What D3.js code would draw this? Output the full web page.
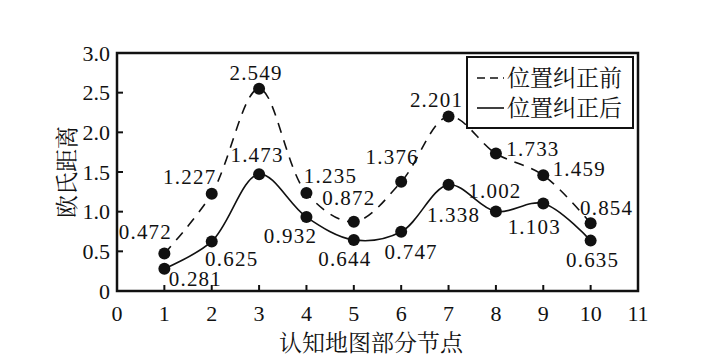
<!DOCTYPE html>
<html>
<head>
<meta charset="utf-8">
<script src="https://cdn.jsdelivr.net/npm/d3@7"></script>
<style>
  body { margin: 0; background: #fff; }
</style>
</head>
<body>
<svg id="chart" width="715" height="362"></svg>
<script>
// data
const nodes = [1, 2, 3, 4, 5, 6, 7, 8, 9, 10];
const before = [0.472, 1.227, 2.549, 1.235, 0.872, 1.376, 2.201, 1.733, 1.459, 0.854];
const after = [0.281, 0.625, 1.473, 0.932, 0.644, 0.747, 1.338, 1.002, 1.103, 0.635];
const xTicks = [0, 1, 2, 3, 4, 5, 6, 7, 8, 9, 10, 11];
const yTicks = [0, 0.5, 1.0, 1.5, 2.0, 2.5, 3.0];
const seriesNames = ["位置纠正前", "位置纠正后"];

// label offsets (px) from each point
const beforeOffsets = [[-19, -22], [-22, -17], [-3, -16], [24, -17], [-5, -24], [-9, -25], [-12, -17], [37, -5], [36, -7], [16, -16]];
const afterOffsets = [[31, 10], [20, 17], [-2, -19], [-16, 19], [-9, 19], [10, 20], [5, 30], [-1, -21], [-9, 23], [2, 19]];

const SERIF = "Liberation Serif";
const CJK = "Noto Serif CJK SC, Noto Sans CJK SC";
const INK = "#111";

const svg = d3.select("#chart");
const margin = { left: 117, right: 77, top: 53, bottom: 71 };
const W = 715, H = 362;

const x = d3.scaleLinear().domain([0, 11]).range([margin.left, W - margin.right]);
const y = d3.scaleLinear().domain([0, 3]).range([H - margin.bottom, margin.top]);

// frame
svg.append("rect")
    .attr("x", x(0)).attr("y", y(3))
    .attr("width", x(11) - x(0)).attr("height", y(0) - y(3))
    .attr("fill", "none").attr("stroke", INK).attr("stroke-width", 2.5);

// x ticks (inward) and labels
svg.append("g").selectAll("line")
    .data(xTicks.filter(d => d > 0 && d < 11))
    .join("line")
    .attr("x1", d => x(d)).attr("x2", d => x(d))
    .attr("y1", y(0)).attr("y2", y(0) - 6)
    .attr("stroke", INK).attr("stroke-width", 2);

svg.append("g").selectAll("text")
    .data(xTicks)
    .join("text")
    .attr("x", d => x(d)).attr("y", y(0) + 22)
    .attr("dy", "0.35em")
    .attr("text-anchor", "middle")
    .attr("font-family", SERIF)
    .attr("font-size", 22)
    .attr("fill", INK)
    .text(d => d);

// y ticks and labels
svg.append("g").selectAll("line")
    .data(yTicks.filter(d => d > 0 && d < 3))
    .join("line")
    .attr("x1", x(0)).attr("x2", x(0) + 6)
    .attr("y1", d => y(d)).attr("y2", d => y(d))
    .attr("stroke", INK).attr("stroke-width", 2);

svg.append("g").selectAll("text")
    .data(yTicks)
    .join("text")
    .attr("x", x(0) - 7).attr("y", d => y(d))
    .attr("dy", "0.35em")
    .attr("text-anchor", "end")
    .attr("font-family", SERIF)
    .attr("font-size", 22)
    .attr("fill", INK)
    .text(d => d === 0 ? "0" : d.toFixed(1));

// axis titles
svg.append("text")
    .attr("x", 371).attr("y", 343)
    .attr("dy", "0.35em")
    .attr("text-anchor", "middle")
    .attr("font-size", 23)
    .attr("font-family", CJK)
    .attr("fill", INK)
    .text("认知地图部分节点");

svg.append("text")
    .attr("transform", "translate(67,172) rotate(-90)")
    .attr("dy", "0.35em")
    .attr("text-anchor", "middle")
    .attr("font-size", 23)
    .attr("font-family", CJK)
    .attr("fill", INK)
    .text("欧氏距离");

// lines
const line = d3.line()
    .x((d, i) => x(nodes[i]))
    .y(d => y(d))
    .curve(d3.curveCatmullRom.alpha(0.5));

svg.append("path")
    .attr("d", line(before))
    .attr("fill", "none").attr("stroke", INK).attr("stroke-width", 1.6)
    .attr("stroke-dasharray", "10,8");

svg.append("path")
    .attr("d", line(after))
    .attr("fill", "none").attr("stroke", INK).attr("stroke-width", 1.6);

// markers and labels
function drawPoints(values, offsets) {
    const g = svg.append("g");
    g.selectAll("circle")
        .data(values)
        .join("circle")
        .attr("cx", (d, i) => x(nodes[i]))
        .attr("cy", d => y(d))
        .attr("r", 6)
        .attr("fill", INK);
    g.selectAll("text")
        .data(values)
        .join("text")
        .attr("x", (d, i) => x(nodes[i]) + offsets[i][0])
        .attr("y", (d, i) => y(d) + offsets[i][1])
        .attr("dy", "0.35em")
        .attr("text-anchor", "middle")
        .attr("font-family", SERIF)
        .attr("font-size", 21)
        .attr("letter-spacing", 1.2)
        .attr("fill", INK)
        .text(d => d.toFixed(3));
}
drawPoints(before, beforeOffsets);
drawPoints(after, afterOffsets);

// legend
const legend = svg.append("g");
legend.append("rect")
    .attr("x", 467).attr("y", 57)
    .attr("width", 166).attr("height", 71)
    .attr("fill", "#fff").attr("stroke", INK).attr("stroke-width", 2);

seriesNames.forEach((name, i) => {
    const ly = 78 + i * 30;
    legend.append("line")
        .attr("x1", 477).attr("x2", 504)
        .attr("y1", ly).attr("y2", ly)
        .attr("stroke", INK).attr("stroke-width", 1.6)
        .attr("stroke-dasharray", i === 0 ? "8,5" : null);
    legend.append("text")
        .attr("x", 507).attr("y", ly)
        .attr("dy", "0.35em")
        .attr("font-size", 23)
        .attr("font-family", CJK)
        .attr("fill", INK)
        .text(name);
});
</script>
</body>
</html>
